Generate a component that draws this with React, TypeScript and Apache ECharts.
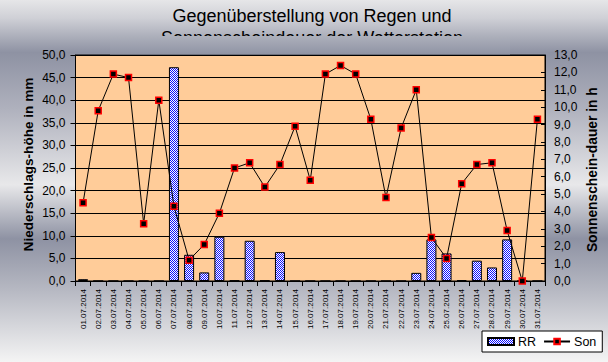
import React, { useEffect, useRef } from "react";
import * as echarts from "echarts";

const categories = [
  "01.07.2014", "02.07.2014", "03.07.2014", "04.07.2014", "05.07.2014", "06.07.2014",
  "07.07.2014", "08.07.2014", "09.07.2014", "10.07.2014", "11.07.2014", "12.07.2014",
  "13.07.2014", "14.07.2014", "15.07.2014", "16.07.2014", "17.07.2014", "18.07.2014",
  "19.07.2014", "20.07.2014", "21.07.2014", "22.07.2014", "23.07.2014", "24.07.2014",
  "25.07.2014", "26.07.2014", "27.07.2014", "28.07.2014", "29.07.2014", "30.07.2014",
  "31.07.2014",
];

const rrValues = [
  0.4, 0, 0, 0, 0, 0, 47.3, 5.8, 1.9, 9.8, 0.1, 8.9, 0.1, 6.4, 0, 0, 0, 0, 0, 0, 0, 0,
  1.8, 9.2, 6.1, 0.2, 4.5, 3.0, 9.2, 0, 0,
];

const sonValues = [
  4.5, 9.8, 11.9, 11.7, 3.3, 10.4, 4.3, 1.2, 2.1, 3.9, 6.5, 6.8, 5.4, 6.7, 8.9, 5.8, 11.9,
  12.4, 11.9, 9.3, 4.8, 8.8, 11.0, 2.5, 1.3, 5.6, 6.7, 6.8, 2.9, 0.0, 9.3,
];

const titleLines = ["Gegenüberstellung von Regen und", "Sonnenscheindauer der Wetterstation"];
const leftTitle = "Niederschlags-höhe in mm";
const rightTitle = "Sonnenschein-dauer in h";

const FONT = "'Liberation Sans', Arial, sans-serif";

const bgStops: [number, string][] = [
  [0.0, "#e6e6e8"],
  [0.05, "#cfd0d6"],
  [0.145, "#8e92a3"],
  [0.3, "#afb1bd"],
  [0.51, "#e8e8ea"],
  [0.66, "#8e92a3"],
  [0.8, "#b6b8c2"],
  [1.0, "#f4f4f4"],
];

function hexToRgb(h: string) {
  const n = parseInt(h.slice(1), 16);
  return [(n >> 16) & 255, (n >> 8) & 255, n & 255];
}
function colorAt(t: number) {
  for (let i = 0; i < bgStops.length - 1; i++) {
    const [o1, c1] = bgStops[i];
    const [o2, c2] = bgStops[i + 1];
    if (t >= o1 && t <= o2) {
      const f = (t - o1) / (o2 - o1);
      const a = hexToRgb(c1);
      const b = hexToRgb(c2);
      const r = a.map((v, k) => Math.round(v + (b[k] - v) * f));
      return `rgb(${r[0]},${r[1]},${r[2]})`;
    }
  }
  return bgStops[bgStops.length - 1][1];
}

const fmt = (v: number) => v.toFixed(1).replace(".", ",");

export default function App() {
  const ref = useRef<HTMLDivElement>(null);
  useEffect(() => {
    if (!ref.current) return;
    const chart = echarts.init(ref.current, undefined, { renderer: "svg" });

    const cv = document.createElement("canvas");
    cv.width = 2;
    cv.height = 2;
    const ctx = cv.getContext("2d")!;
    ctx.fillStyle = "#ffffff";
    ctx.fillRect(0, 0, 2, 2);
    ctx.fillStyle = "#1010ff";
    ctx.fillRect(0, 0, 1, 1);
    ctx.fillRect(1, 1, 1, 1);
    const pattern = { image: cv.toDataURL(), repeat: "repeat" };

    const H = 362;
    const coverTop = 36;
    const coverBottom = 54.5;

    chart.setOption({
      animation: false,
      backgroundColor: new echarts.graphic.LinearGradient(
        0, 0, 0, 1,
        bgStops.map(([offset, color]) => ({ offset, color }))
      ),
      textStyle: { fontFamily: FONT },
      grid: {
        left: 75.5,
        right: 63,
        top: 55,
        bottom: 81,
        show: true,
        backgroundColor: "#ffcc99",
        borderColor: "#000",
        borderWidth: 1,
      },
      legend: {
        left: 482,
        top: 331,
        padding: [4, 6, 4, 5],
        itemGap: 7,
        itemWidth: 26,
        itemHeight: 7,
        backgroundColor: "#ffffff",
        borderColor: "#000",
        borderWidth: 1,
        borderRadius: 0,
        textStyle: { fontFamily: FONT, fontSize: 12.5, color: "#000", padding: [0, 0, 0, -1] },
        data: [{ name: "RR", icon: "rect" }, { name: "Son" }],
      },
      xAxis: {
        type: "category",
        data: categories,
        boundaryGap: true,
        axisLine: { show: true, lineStyle: { color: "#000", width: 1 } },
        axisTick: { show: true, interval: 0, length: 5, lineStyle: { color: "#000" } },
        axisLabel: {
          interval: 0,
          rotate: 90,
          fontSize: 8,
          fontFamily: FONT,
          color: "#000",
          margin: 8,
        },
        splitLine: { show: false },
      },
      yAxis: [
        {
          type: "value",
          min: 0,
          max: 50,
          interval: 5,
          position: "left",
          axisLine: { show: true, lineStyle: { color: "#000" } },
          axisTick: { show: true, length: 5, lineStyle: { color: "#000" } },
          axisLabel: { formatter: fmt, fontSize: 12, fontFamily: FONT, color: "#000", margin: 10 },
          splitLine: { show: true, lineStyle: { color: "#000", width: 1 } },
        },
        {
          type: "value",
          min: 0,
          max: 13,
          interval: 1,
          position: "right",
          axisLine: { show: true, lineStyle: { color: "#000" } },
          axisTick: { show: true, inside: true, length: 4, lineStyle: { color: "#000" } },
          axisLabel: { formatter: fmt, fontSize: 12, fontFamily: FONT, color: "#000", margin: 9 },
          splitLine: { show: false },
        },
      ],
      series: [
        {
          name: "RR",
          type: "bar",
          yAxisIndex: 0,
          data: rrValues,
          barWidth: "66%",
          itemStyle: { color: pattern, borderColor: "#000", borderWidth: 1 },
        },
        {
          name: "Son",
          type: "line",
          yAxisIndex: 1,
          data: sonValues,
          symbol: "rect",
          symbolSize: 6,
          lineStyle: { color: "#000", width: 1 },
          itemStyle: { color: "#000", borderColor: "#ff0000", borderWidth: 1.5 },
          z: 5,
        },
      ],
      graphic: [
        {
          type: "text",
          z: 10,
          style: {
            text: titleLines[0],
            x: 312,
            y: 16,
            textAlign: "center",
            textVerticalAlign: "middle",
            font: `18px ${FONT}`,
            fill: "#000",
          },
        },
        {
          type: "text",
          z: 10,
          style: {
            text: titleLines[1],
            x: 312,
            y: 38.4,
            textAlign: "center",
            textVerticalAlign: "middle",
            font: `18px ${FONT}`,
            fill: "#000",
          },
        },
        {
          type: "rect",
          z: 11,
          shape: { x: 110, y: coverTop, width: 400, height: coverBottom - coverTop },
          style: {
            fill: new echarts.graphic.LinearGradient(0, 0, 0, 1, [
              { offset: 0, color: colorAt(coverTop / H) },
              { offset: 1, color: colorAt(coverBottom / H) },
            ]),
          },
        },
        {
          type: "text",
          z: 10,
          x: 28,
          y: 164.5,
          rotation: Math.PI / 2,
          style: {
            text: leftTitle,
            x: 0,
            y: 0,
            textAlign: "center",
            textVerticalAlign: "middle",
            font: `bold 13.6px ${FONT}`,
            fill: "#000",
          },
        },
        {
          type: "text",
          z: 10,
          x: 592,
          y: 169.7,
          rotation: Math.PI / 2,
          style: {
            text: rightTitle,
            x: 0,
            y: 0,
            textAlign: "center",
            textVerticalAlign: "middle",
            font: `bold 13.8px ${FONT}`,
            fill: "#000",
          },
        },
      ],
    });
    return () => chart.dispose();
  }, []);
  return (
    <div
      ref={ref}
      style={{ position: "fixed", left: 0, top: 0, width: 608, height: 362 }}
    />
  );
}
